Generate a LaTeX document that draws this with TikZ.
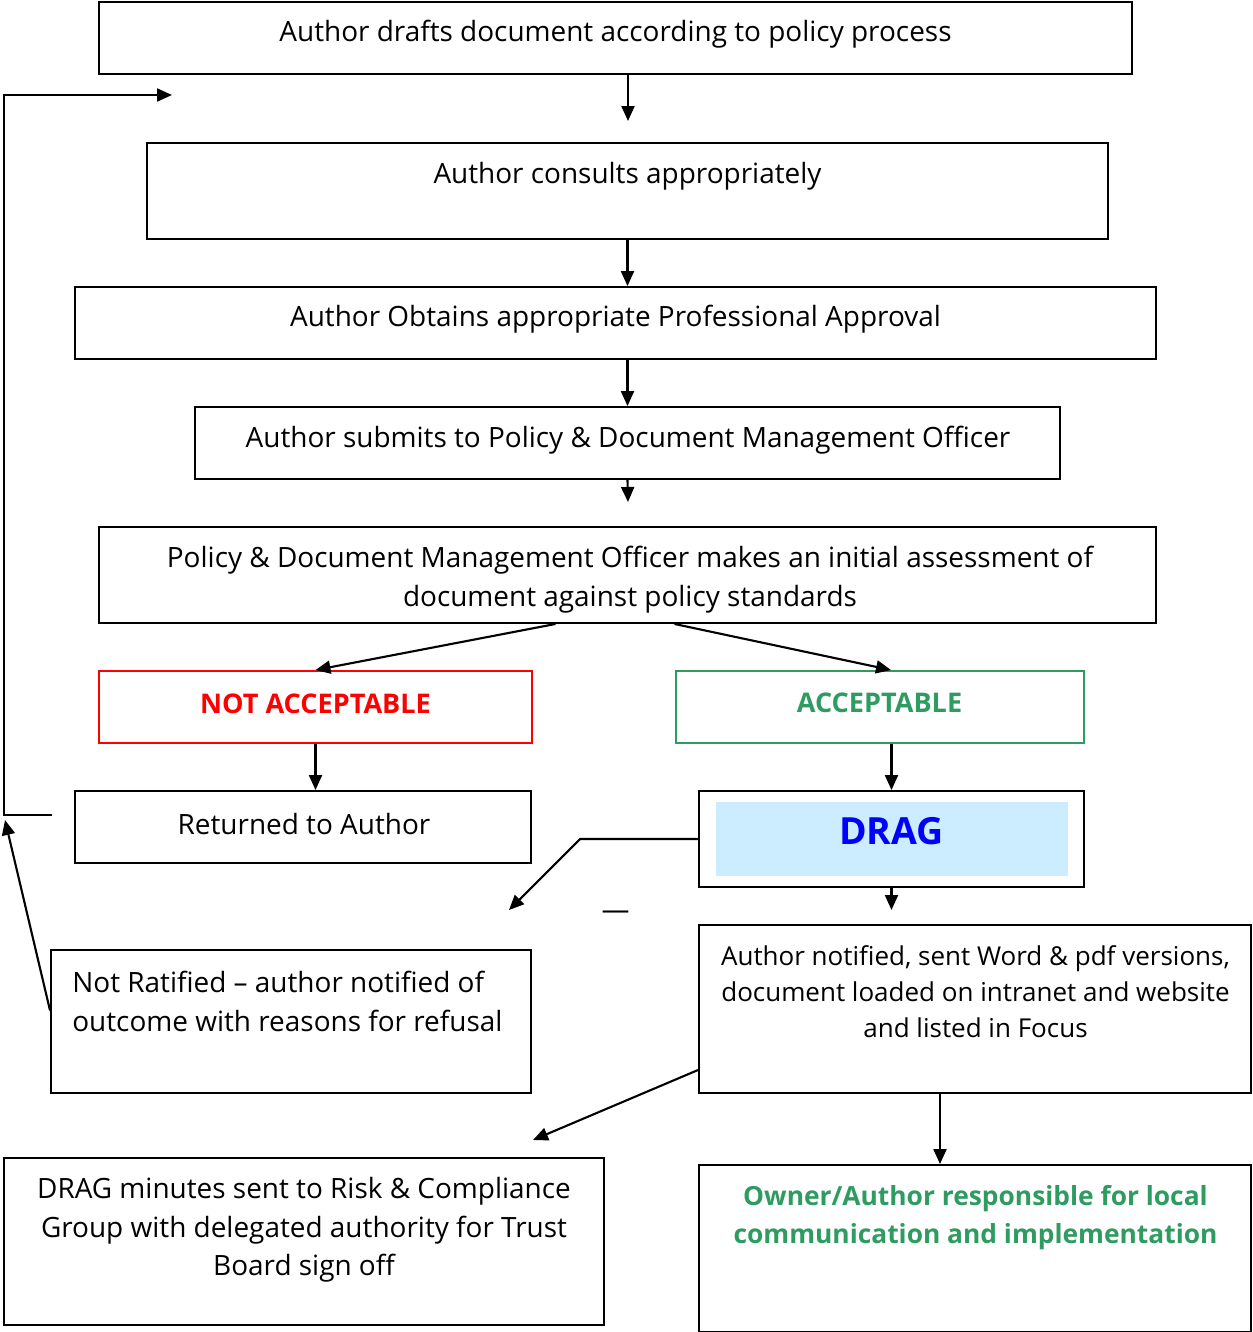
\documentclass[tikz,border=0pt]{standalone}
\usepackage{fontspec}
\setmainfont{Open Sans}
\usetikzlibrary{positioning,arrows.meta,calc}
\definecolor{accgreen}{RGB}{46,156,96}
\definecolor{dragfill}{RGB}{204,236,255}
\definecolor{dragblue}{RGB}{0,0,255}

\begin{document}
\begin{tikzpicture}[x=0.02cm,y=-0.02cm,
  box/.style 2 args={rectangle,draw=black,line width=1.1pt,minimum width=#1*0.02cm,minimum height=#2*0.02cm,inner sep=0pt},
  txt/.style={inner sep=0pt,font=\fontsize{15.9}{22}\selectfont,align=center},
  head/.style={txt,font=\fontsize{15.4}{22}\selectfont\bfseries},
  arr/.style={-{Triangle[length=0.3cm,width=0.26cm]},line width=1.2pt}]
\useasboundingbox (0,0) rectangle (1252,1332);

% Main column of boxes
\node[box={1033}{72}] (draft) at (615.5,38) {};
\node[txt] (draft txt) at (615.5,34) {Author drafts document according to policy process};
\node[box={961}{96}] (consult) at (627.5,191) {};
\node[txt] (consult txt) at (627.5,176) {Author consults appropriately};
\node[box={1081}{72}] (approve) at (615.5,323) {};
\node[txt] (approve txt) at (615.5,319) {Author Obtains appropriate Professional Approval};
\node[box={865}{72}] (submit) at (627.5,443) {};
\node[txt] (submit txt) at (628,440) {Author submits to Policy \& Document Management Officer};
\node[box={1057}{96}] (assess) at (627.5,575) {};
\node[txt] (assess txt) at (630,579.5) {Policy \& Document Management Officer makes an initial assessment of\\document against policy standards};

% Decision boxes
\node[box={433}{72},draw=red] (notok) at (315.5,707) {};
\node[head,text=red] (notok txt) at (315.5,704) {NOT ACCEPTABLE};
\node[box={408}{72},draw=accgreen] (ok) at (880,707) {};
\node[head,text=accgreen] (ok txt) at (879.5,703) {ACCEPTABLE};

\node[box={456}{72}] (returned) at (303,827) {};
\node[txt] (returned txt) at (304,824) {Returned to Author};
\node[box={385}{96}] (drag) at (891.5,839) {};
\node[rectangle,fill=dragfill,minimum width=352*0.02cm,minimum height=74*0.02cm,inner sep=0pt] (drag fill) at (892,839) {};
\node[txt,text=dragblue,font=\fontsize{21.3}{26}\selectfont\bfseries] (drag txt) at (891.5,831) {DRAG};
\node[txt] (dash) at (615.5,915) {—};

% Outcome boxes
\node[box={480}{143}] (refused) at (291,1021.5) {};
\node[txt,align=left,anchor=west] (refused txt) at (72,1001.5) {Not Ratified -- author notified of\\outcome with reasons for refusal};
\node[box={552}{168}] (notified) at (975,1009) {};
\node[txt,font=\fontsize{14.8}{20.5}\selectfont] (notified txt) at (975.5,992) {Author notified, sent Word \& pdf versions,\\document loaded on intranet and website\\and listed in Focus};
\node[box={600}{167}] (minutes) at (304,1241.5) {};
\node[txt] (minutes txt) at (304,1230) {DRAG minutes sent to Risk \& Compliance\\Group with delegated authority for Trust\\Board sign off};
\node[box={552}{167}] (owner) at (975,1248.5) {};
\node[head,text=accgreen,font=\fontsize{15}{22}\selectfont\bfseries] (owner txt) at (975.5,1217.5) {Owner/Author responsible for local\\communication and implementation};

% Free arrow ends
\coordinate (tipA) at (628,121);
\coordinate (tipB) at (628,502);
\coordinate (tipC) at (891.5,910);
\coordinate (bend) at (580,839);
\coordinate (tipD) at (509,910);
\coordinate (loopA) at (52,815);
\coordinate (loopB) at (172,95);
\coordinate (tipE) at (5,820);
\coordinate (tipF) at (533,1140);

% Connectors
\draw[arr] (draft.south -| tipA) -- (tipA);
\draw[arr] (consult.south) -- (approve.north -| consult.south);
\draw[arr] (approve.south -| submit.north) -- (submit.north);
\draw[arr] (submit.south) -- (tipB);
\draw[arr] ($(assess.south)+(-72,0)$) -- (notok.north);
\draw[arr] ($(assess.south)+(47,0)$) -- ($(ok.north)+(11,0)$);
\draw[arr] (notok.south) -- (notok.south |- returned.north);
\draw[arr] (drag.north |- ok.south) -- (drag.north);
\draw[arr] (drag.south) -- (tipC);
\draw[arr] (drag.west) -- (bend) -- (tipD);
\draw[arr] (loopA) -- ++(-48,0) |- (loopB);
\draw[arr] ($(refused.west)+(0,-11)$) -- (tipE);
\draw[arr] ($(notified.west)+(0,61)$) -- (tipF);
\draw[arr] ($(notified.south)+(-35,0)$) -- ($(owner.north)+(-35,0)$);
\end{tikzpicture}
\end{document}
